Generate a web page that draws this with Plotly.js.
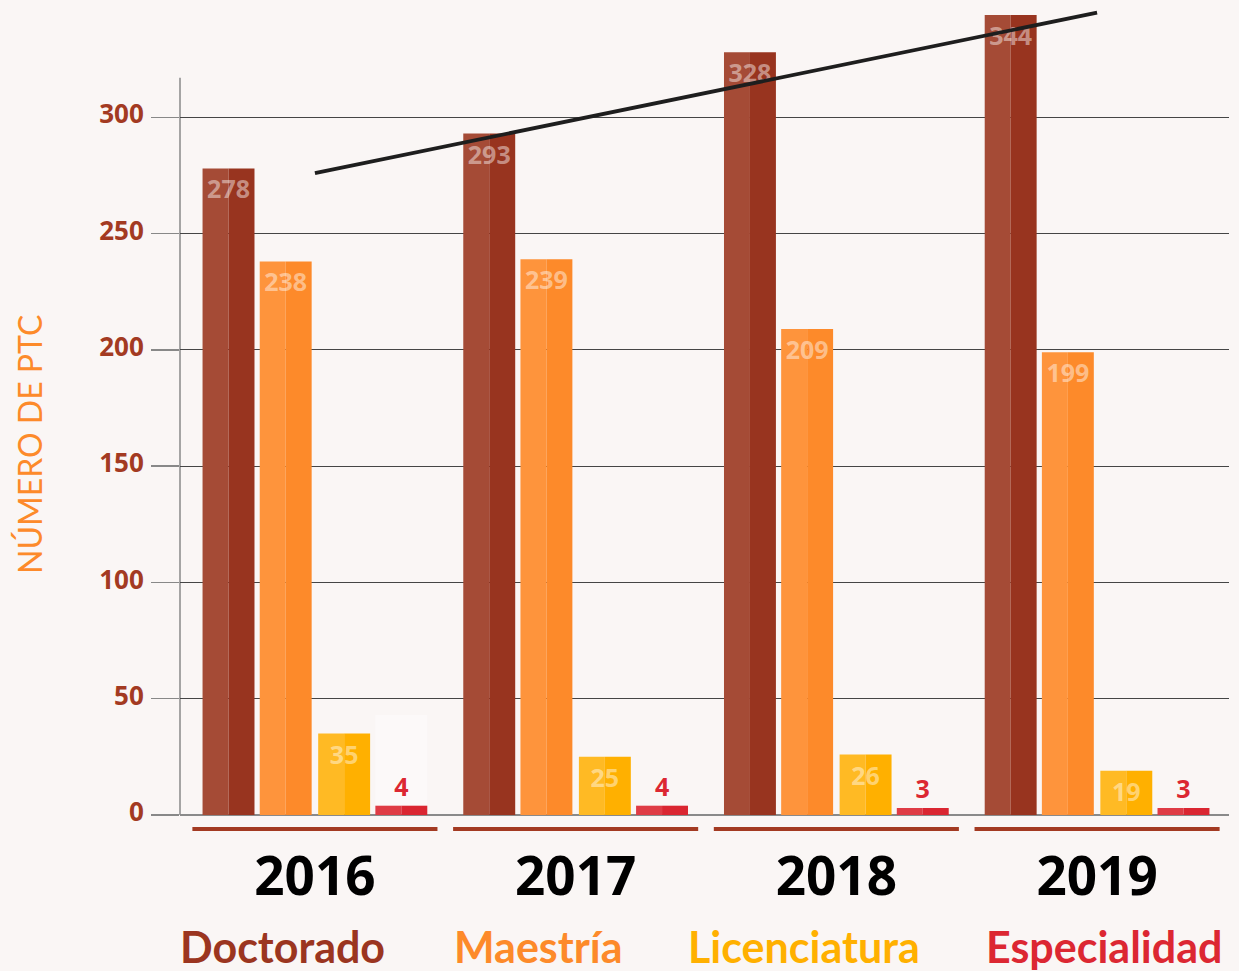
<!DOCTYPE html>
<html>
<head>
<meta charset="utf-8">
<script src="https://cdn.plot.ly/plotly-3.0.1.min.js"></script>
<style>
html,body{margin:0;padding:0;background:#faf6f5;}
#chart{width:1239px;height:971px;}
</style>
</head>
<body>
<div id="chart"></div>
<script>
// ---- data ----
const years = [2016, 2017, 2018, 2019];
const categories = ['Doctorado', 'Maestría', 'Licenciatura', 'Especialidad'];
const doctorado = [278, 293, 328, 344];
const maestria = [238, 239, 209, 199];
const licenciatura = [35, 25, 26, 19];
const especialidad = [4, 4, 3, 3];
const trendYears = [2016, 2019];
const trendValues = [276, 345];
const yTicks = [0, 50, 100, 150, 200, 250, 300];

// ---- styles ----
const series = [doctorado, maestria, licenciatura, especialidad];
const lightColors = ['#a54b36', '#fe943c', '#ffba24', '#df3c45'];
const darkColors = ['#98341f', '#fd8a2a', '#ffb000', '#da2631'];
const labelColors = ['#9b3520', '#fd8a2a', '#ffb000', '#dc2732'];
const offsets = [-0.3314, -0.1121, 0.1121, 0.3314];
const W = 0.1992;
const FONT = 'Lato, "Open Sans", sans-serif';
const NUMFONT = '"Open Sans", Lato, sans-serif';

const traces = [];
series.forEach((vals, i) => {
  traces.push({type: 'bar', x: years, y: vals, offset: offsets[i] - W / 2, width: W / 2,
    marker: {color: lightColors[i], line: {width: 0}}, hoverinfo: 'skip', showlegend: false});
  traces.push({type: 'bar', x: years, y: vals, offset: offsets[i], width: W / 2,
    marker: {color: darkColors[i], line: {width: 0}}, hoverinfo: 'skip', showlegend: false});
});
series.forEach((vals, i) => {
  const outside = i === 3;
  traces.push({type: 'bar', x: years, y: vals, offset: offsets[i] - W / 2, width: W,
    marker: {color: 'rgba(0,0,0,0)', line: {width: 0}},
    text: vals.map(String), textposition: outside ? 'outside' : 'inside',
    insidetextanchor: 'end', constraintext: 'none', cliponaxis: false,
    textfont: {family: NUMFONT, size: 25, weight: 700,
      color: outside ? '#dc2732' : 'rgba(255,255,255,0.45)'},
    hoverinfo: 'skip', showlegend: false});
});
traces.push({type: 'scatter', mode: 'lines', x: trendYears, y: trendValues,
  line: {color: '#1e1e1e', width: 3.8}, hoverinfo: 'skip', showlegend: false, cliponaxis: false});

const shapes = [
  {type: 'line', xref: 'paper', yref: 'y', x0: 0, x1: 0, y0: 0, y1: 317,
   line: {color: '#888888', width: 1.5}, layer: 'below'},
  {type: 'rect', xref: 'x', yref: 'y', x0: years[0] + offsets[3] - W / 2, x1: years[0] + offsets[3] + W / 2,
   y0: 0, y1: 43, fillcolor: '#fcf9f9', line: {width: 0}, layer: 'below'}
];
years.forEach(yr => {
  shapes.push({type: 'line', xref: 'x', yref: 'paper', x0: yr - 0.47, x1: yr + 0.47,
    y0: -0.0172, y1: -0.0172, line: {color: '#a33a22', width: 4}});
});

const px = p => (p - 180) / 1049;
const py = p => (815 - p) / 814;
const legendLefts = [178, 452, 686, 984];
const annotations = categories.map((c, i) => ({
  text: c, xref: 'paper', yref: 'paper', x: px(legendLefts[i]), y: py(946),
  xanchor: 'left', yanchor: 'middle', showarrow: false,
  font: {family: FONT, size: 43, weight: 700, color: labelColors[i]}
}));
annotations.push({text: 'NÚMERO DE PTC', xref: 'paper', yref: 'paper', x: px(30), y: py(445),
  xanchor: 'center', yanchor: 'middle', textangle: -90, showarrow: false,
  font: {family: FONT, size: 32, weight: 400, color: '#fd8a2a'}});

const layout = {
  width: 1239, height: 971,
  margin: {l: 180, r: 10, t: 1, b: 156},
  paper_bgcolor: '#faf6f5', plot_bgcolor: '#faf6f5',
  barmode: 'overlay',
  showlegend: false,
  xaxis: {
    range: [2015.4825, 2019.506], tickvals: years, ticktext: years.map(String),
    showgrid: false, zeroline: false, showline: false, ticks: '',
    tickfont: {family: NUMFONT, size: 53, weight: 700, color: '#000000'},
    ticklabelstandoff: 26, fixedrange: true
  },
  yaxis: {
    range: [0, 350], tickvals: yTicks, ticktext: yTicks.map(String),
    showgrid: true, gridcolor: '#454545', gridwidth: 1,
    zeroline: true, zerolinecolor: '#8a8a8a', zerolinewidth: 2,
    showline: false, ticks: 'outside', ticklen: 28, tickcolor: '#888888', tickwidth: 1.5,
    tickfont: {family: NUMFONT, size: 26, weight: 700, color: '#a33a22'},
    ticklabelstandoff: 2, ticklabelshift: -3, fixedrange: true
  },
  shapes: shapes,
  annotations: annotations
};

Plotly.newPlot('chart', traces, layout, {displayModeBar: false, staticPlot: true});
</script>
</body>
</html>
